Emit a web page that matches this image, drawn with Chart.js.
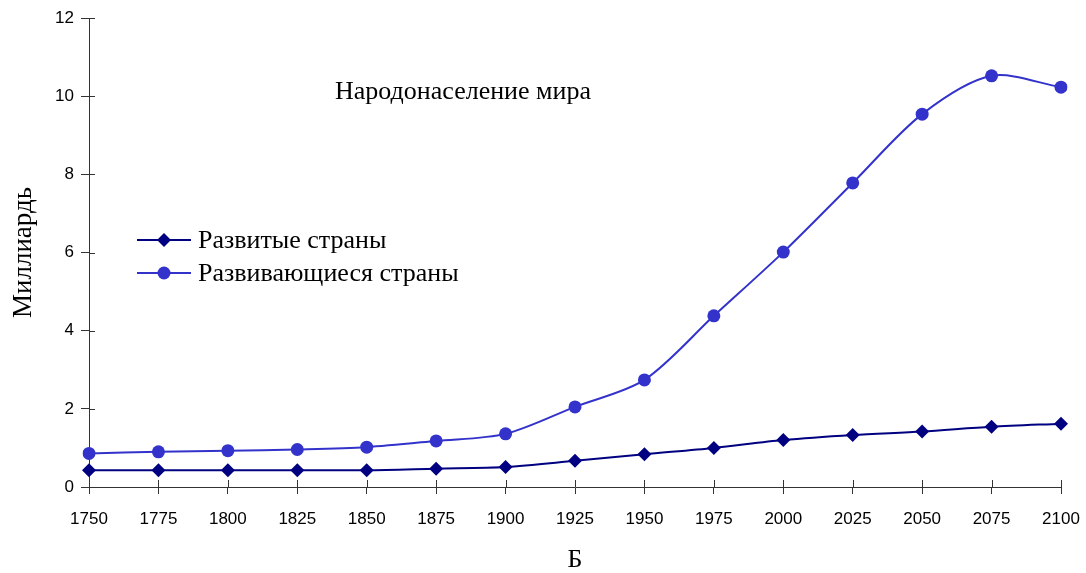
<!DOCTYPE html>
<html lang="ru">
<head>
<meta charset="UTF-8">
<title>Народонаселение мира</title>
<script src="https://cdn.jsdelivr.net/npm/chart.js"></script>
<style>
  html, body { margin: 0; padding: 0; background: #fff; overflow: hidden; }
  #wrap { width: 1086px; height: 573px; position: relative; }
</style>
</head>
<body>
<div id="wrap"><canvas id="popChart" width="1086" height="573"></canvas></div>
<script>
// данные (млрд человек)
const years = ['1750','1775','1800','1825','1850','1875','1900','1925','1950','1975','2000','2025','2050','2075','2100'];
const developed  = [0.43, 0.43, 0.43, 0.43, 0.43, 0.47, 0.51, 0.67, 0.84, 1.0, 1.2, 1.33, 1.42, 1.54, 1.62];
const developing = [0.86, 0.9, 0.93, 0.96, 1.02, 1.18, 1.36, 2.05, 2.74, 4.38, 6.01, 7.78, 9.54, 10.52, 10.23];
const seriesNames = ['Развитые страны', 'Развивающиеся страны'];
const chartTitle = 'Народонаселение мира';
const yTitle = 'Миллиардь';
const xTitle = 'Б';

const navy = '#000080';
const blue = '#3333CC';
const axisColor = '#333';
const serif = '"Liberation Serif", "DejaVu Serif", serif';
const sans = '"Liberation Sans", Arial, sans-serif';

// надпись, легенда и внутренние засечки рисуем сами
const extras = {
  id: 'extras',
  afterDraw(chart) {
    const ctx = chart.ctx;
    const x = chart.scales.x, y = chart.scales.y;
    ctx.save();
    // засечки внутрь области
    ctx.strokeStyle = axisColor;
    ctx.lineWidth = 1;
    ctx.beginPath();
    y.ticks.forEach((t, i) => {
      const py = Math.round(y.getPixelForTick(i)) + 0.5;
      ctx.moveTo(y.right, py); ctx.lineTo(y.right + 6, py);
    });
    x.ticks.forEach((t, i) => {
      const px = Math.round(x.getPixelForTick(i)) + 0.5;
      ctx.moveTo(px, x.top); ctx.lineTo(px, x.top - 7);
    });
    ctx.stroke();

    // заголовок внутри графика
    ctx.fillStyle = '#000';
    ctx.font = '26px ' + serif;
    ctx.textAlign = 'center';
    ctx.textBaseline = 'middle';
    ctx.fillText(chartTitle, 463, 92);

    // легенда
    const rows = [
      { label: seriesNames[0], color: navy, shape: 'diamond', y: 240 },
      { label: seriesNames[1], color: blue, shape: 'circle', y: 273 }
    ];
    ctx.textAlign = 'left';
    rows.forEach(r => {
      ctx.strokeStyle = r.color;
      ctx.lineWidth = 2;
      ctx.beginPath();
      ctx.moveTo(137, r.y); ctx.lineTo(191, r.y);
      ctx.stroke();
      ctx.fillStyle = r.color;
      ctx.beginPath();
      if (r.shape === 'diamond') {
        ctx.moveTo(164 - 7, r.y); ctx.lineTo(164, r.y - 7);
        ctx.lineTo(164 + 7, r.y); ctx.lineTo(164, r.y + 7);
        ctx.closePath();
      } else {
        ctx.arc(164, r.y, 6.5, 0, Math.PI * 2);
      }
      ctx.fill();
      ctx.fillStyle = '#000';
      ctx.fillText(r.label, 198, r.y + 1);
    });
    ctx.restore();
  }
};

new Chart(document.getElementById('popChart'), {
  type: 'line',
  data: {
    labels: years,
    datasets: [
      {
        label: seriesNames[0],
        data: developed,
        borderColor: navy,
        backgroundColor: navy,
        borderWidth: 2,
        pointStyle: 'rectRot',
        pointRadius: 7,
        pointBorderWidth: 0,
        tension: 0.3
      },
      {
        label: seriesNames[1],
        data: developing,
        borderColor: blue,
        backgroundColor: blue,
        borderWidth: 2,
        pointStyle: 'circle',
        pointRadius: 6.5,
        pointBorderWidth: 0,
        tension: 0.3
      }
    ]
  },
  options: {
    responsive: false,
    animation: false,
    layout: { padding: { left: 0, right: 25, top: 18, bottom: 0 } },
    plugins: {
      legend: { display: false },
      tooltip: { enabled: false }
    },
    scales: {
      x: {
        offset: false,
        grid: { drawOnChartArea: false, color: axisColor, tickLength: 7 },
        border: { color: axisColor, width: 1 },
        ticks: { color: '#000', font: { family: sans, size: 17 }, padding: 15, maxRotation: 0, autoSkip: false },
        title: { display: true, text: xTitle, color: '#000', font: { family: serif, size: 26, lineHeight: 1 }, padding: 0 },
        afterFit(s) { s.height = 86; s.paddingLeft = 0; s.paddingRight = 0; }
      },
      y: {
        min: 0,
        max: 12,
        ticks: { stepSize: 2, color: '#000', font: { family: sans, size: 17 }, padding: 7 },
        grid: { drawOnChartArea: false, color: axisColor, tickLength: 8 },
        border: { color: axisColor, width: 1 },
        title: { display: true, text: yTitle, color: '#000', font: { family: serif, size: 27, lineHeight: 1.2 }, padding: { top: 8, bottom: 0 } },
        afterFit(s) { s.width = 89; s.paddingTop = 0; s.paddingBottom = 0; }
      }
    }
  },
  plugins: [extras]
});
</script>
</body>
</html>
